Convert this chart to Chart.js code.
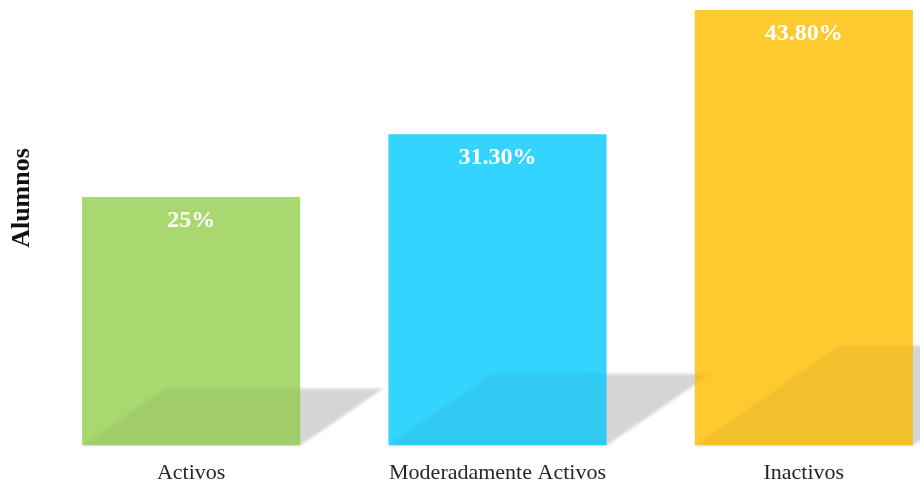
<!DOCTYPE html>
<html>
<head>
<meta charset="utf-8">
<script src="https://cdn.jsdelivr.net/npm/chart.js@4/dist/chart.umd.min.js"></script>
<style>
    html, body { margin: 0; padding: 0; background: #fff; overflow: hidden; }
    #wrap { position: absolute; left: 0; top: 0; width: 960px; height: 492px; }
</style>
</head>
<body>
<div id="wrap"><canvas id="chart"></canvas></div>
<script>
// datos del gráfico
const categories = ['Activos', 'Moderadamente Activos', 'Inactivos'];
const values = [25, 31.3, 43.8];
const valueLabels = ['25%', '31.30%', '43.80%'];
const barColors = ['#a9d870', '#33d4ff', '#ffca30'];
const axisTitle = 'Alumnos';

// sombra en el "suelo" detrás de cada barra
function shadowPath(ctx, bar, base) {
    const left = bar.x - bar.width / 2;
    const right = bar.x + bar.width / 2;
    const hs = (base - bar.y) * 0.23;
    const dx = hs * 1.45;
    ctx.beginPath();
    ctx.moveTo(left, base);
    ctx.lineTo(right, base);
    ctx.lineTo(right + dx, base - hs);
    ctx.lineTo(left + dx, base - hs);
    ctx.closePath();
}

const floorShadow = {
    id: 'floorShadow',
    beforeDatasetsDraw(chart) {
        const ctx = chart.ctx;
        const base = chart.scales.y.getPixelForValue(0);
        ctx.save();
        ctx.filter = 'blur(1.5px)';
        ctx.fillStyle = '#d5d5d5';
        chart.getDatasetMeta(0).data.forEach(bar => {
            shadowPath(ctx, bar, base);
            ctx.fill();
        });
        ctx.restore();
    },
    afterDatasetsDraw(chart) {
        const ctx = chart.ctx;
        const base = chart.scales.y.getPixelForValue(0);
        const bars = chart.getDatasetMeta(0).data;
        // la sombra se ve un poco a través de las barras
        bars.forEach(b => {
            ctx.save();
            ctx.beginPath();
            ctx.rect(b.x - b.width / 2, b.y, b.width, base - b.y);
            ctx.clip();
            ctx.filter = 'blur(1.5px)';
            ctx.fillStyle = 'rgba(0,0,0,0.05)';
            bars.forEach(s => {
                shadowPath(ctx, s, base);
                ctx.fill();
            });
            ctx.restore();
        });

        // etiquetas de valor
        ctx.save();
        ctx.fillStyle = '#ffffff';
        ctx.font = 'bold 24px "Liberation Serif", "Times New Roman", serif';
        ctx.textAlign = 'center';
        ctx.textBaseline = 'middle';
        bars.forEach((b, i) => {
            ctx.fillText(valueLabels[i], b.x, b.y + 24);
        });
        ctx.restore();

        // título del eje Y
        ctx.save();
        ctx.translate(22, 198);
        ctx.rotate(-Math.PI / 2);
        ctx.fillStyle = '#111111';
        ctx.font = 'bold 26px "Liberation Serif", "Times New Roman", serif';
        ctx.textAlign = 'center';
        ctx.textBaseline = 'middle';
        ctx.fillText(axisTitle, 0, 0);
        ctx.restore();
    }
};

new Chart(document.getElementById('chart'), {
    type: 'bar',
    data: {
        labels: categories,
        datasets: [{
            data: values,
            backgroundColor: barColors,
            borderWidth: 0,
            categoryPercentage: 1,
            barPercentage: 0.712
        }]
    },
    options: {
        responsive: true,
        maintainAspectRatio: false,
        animation: false,
        layout: {
            padding: { left: 38, right: 3, top: 0, bottom: 0 }
        },
        plugins: {
            legend: { display: false },
            tooltip: { enabled: false }
        },
        scales: {
            x: {
                grid: { display: false },
                border: { display: false },
                ticks: {
                    color: '#262626',
                    padding: 6,
                    font: { family: '"Liberation Serif", "Times New Roman", serif', size: 22 }
                }
            },
            y: {
                display: false,
                min: 0,
                max: 44.8
            }
        }
    },
    plugins: [floorShadow]
});
</script>
</body>
</html>
